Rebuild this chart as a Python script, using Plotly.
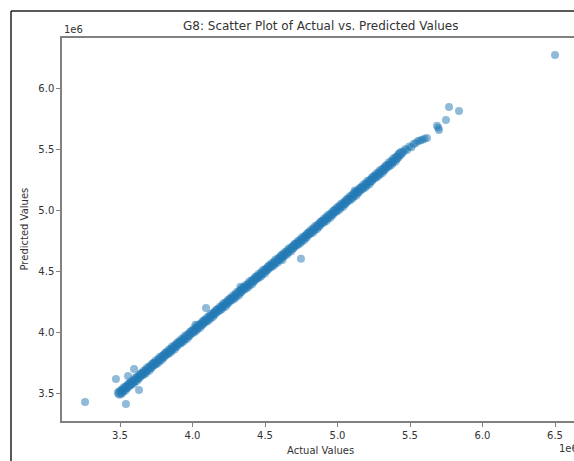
import plotly.graph_objects as go

# Values in units of 1e6
band_actual = [
    3.492, 3.498, 3.505, 3.511, 3.519, 3.527, 3.534, 3.541, 3.550, 3.558,
    3.566, 3.573, 3.581, 3.590, 3.598, 3.607, 3.615, 3.622, 3.631, 3.640,
    3.648, 3.656, 3.665, 3.673, 3.682, 3.690, 3.699, 3.708, 3.716, 3.725,
    3.733, 3.742, 3.751, 3.759, 3.768, 3.777, 3.785, 3.794, 3.803, 3.812,
    3.820, 3.829, 3.838, 3.846, 3.855, 3.864, 3.873, 3.881, 3.890, 3.899,
    3.908, 3.917, 3.925, 3.934, 3.943, 3.952, 3.961, 3.969, 3.978, 3.987,
    3.996, 4.005, 4.014, 4.022, 4.031, 4.040, 4.049, 4.058, 4.067, 4.075,
    4.084, 4.093, 4.102, 4.111, 4.120, 4.129, 4.137, 4.146, 4.155, 4.164,
    4.173, 4.182, 4.191, 4.200, 4.209, 4.217, 4.226, 4.235, 4.244, 4.253,
    4.262, 4.271, 4.280, 4.289, 4.298, 4.307, 4.316, 4.325, 4.334, 4.343,
    4.352, 4.361, 4.370, 4.379, 4.388, 4.397, 4.406, 4.415, 4.424, 4.433,
    4.442, 4.451, 4.460, 4.469, 4.478, 4.487, 4.496, 4.505, 4.514, 4.523,
    4.532, 4.541, 4.550, 4.559, 4.568, 4.577, 4.586, 4.595, 4.604, 4.613,
    4.622, 4.631, 4.640, 4.649, 4.658, 4.667, 4.676, 4.685, 4.694, 4.703,
    4.712, 4.721, 4.730, 4.739, 4.748, 4.757, 4.766, 4.775, 4.784, 4.793,
    4.802, 4.811, 4.820, 4.829, 4.838, 4.847, 4.856, 4.865, 4.874, 4.883,
    4.892, 4.901, 4.910, 4.919, 4.928, 4.937, 4.946, 4.955, 4.964, 4.973,
    4.982, 4.991, 5.000, 5.009, 5.018, 5.027, 5.036, 5.045, 5.054, 5.063,
    5.072, 5.081, 5.090, 5.099, 5.108, 5.117, 5.126, 5.135, 5.144, 5.153,
    5.162, 5.171, 5.180, 5.189, 5.198, 5.207, 5.216, 5.225, 5.234, 5.243,
    5.252, 5.261, 5.270, 5.279, 5.288, 5.297, 5.306, 5.315, 5.324, 5.333,
    5.342, 5.351, 5.360, 5.369, 5.378, 5.387, 5.396, 5.405, 5.414, 5.423, 5.432, 5.441,
]
band_predicted = [
    3.503, 3.494, 3.515, 3.503, 3.521, 3.539, 3.524, 3.545, 3.548, 3.566,
    3.572, 3.569, 3.591, 3.582, 3.600, 3.619, 3.605, 3.626, 3.629, 3.648,
    3.654, 3.652, 3.675, 3.665, 3.684, 3.702, 3.689, 3.712, 3.714, 3.733,
    3.739, 3.738, 3.761, 3.751, 3.770, 3.789, 3.775, 3.798, 3.801, 3.820,
    3.826, 3.825, 3.848, 3.838, 3.857, 3.876, 3.863, 3.885, 3.888, 3.907,
    3.914, 3.913, 3.935, 3.926, 3.945, 3.964, 3.951, 3.973, 3.976, 3.995,
    4.002, 4.001, 4.024, 4.014, 4.033, 4.052, 4.039, 4.062, 4.065, 4.083,
    4.090, 4.089, 4.112, 4.103, 4.122, 4.141, 4.127, 4.150, 4.153, 4.172,
    4.179, 4.178, 4.201, 4.192, 4.211, 4.229, 4.216, 4.239, 4.242, 4.261,
    4.268, 4.267, 4.290, 4.281, 4.300, 4.319, 4.306, 4.329, 4.332, 4.351,
    4.358, 4.357, 4.380, 4.371, 4.390, 4.409, 4.396, 4.419, 4.422, 4.441,
    4.448, 4.447, 4.470, 4.461, 4.480, 4.499, 4.486, 4.509, 4.512, 4.531,
    4.538, 4.537, 4.560, 4.551, 4.570, 4.589, 4.576, 4.599, 4.602, 4.621,
    4.628, 4.627, 4.650, 4.641, 4.660, 4.679, 4.666, 4.689, 4.692, 4.711,
    4.718, 4.717, 4.740, 4.731, 4.750, 4.769, 4.756, 4.779, 4.782, 4.801,
    4.810, 4.809, 4.832, 4.823, 4.842, 4.861, 4.848, 4.871, 4.874, 4.893,
    4.902, 4.901, 4.924, 4.915, 4.934, 4.953, 4.940, 4.963, 4.966, 4.985,
    4.994, 4.993, 5.016, 5.007, 5.026, 5.045, 5.032, 5.055, 5.058, 5.077,
    5.086, 5.085, 5.108, 5.099, 5.118, 5.137, 5.124, 5.147, 5.150, 5.169,
    5.178, 5.177, 5.200, 5.191, 5.210, 5.229, 5.216, 5.239, 5.242, 5.261,
    5.270, 5.269, 5.292, 5.283, 5.302, 5.321, 5.308, 5.331, 5.334, 5.353,
    5.362, 5.361, 5.386, 5.375, 5.396, 5.415, 5.402, 5.427, 5.430, 5.451, 5.458, 5.470,
]
sparse_actual = [5.455, 5.468, 5.480, 5.495, 5.510, 5.525, 5.540, 5.555, 5.570, 5.585, 5.600, 5.617,
                 5.686, 5.695, 5.700, 5.748, 5.769, 5.838, 6.500]
sparse_predicted = [5.478, 5.500, 5.492, 5.520, 5.515, 5.540, 5.550, 5.565, 5.570, 5.575, 5.585, 5.590,
                    5.690, 5.675, 5.656, 5.738, 5.844, 5.811, 6.270]
outlier_actual = [3.259, 3.541, 3.472, 3.555, 3.597, 3.631, 4.093, 4.748, 4.330, 4.620, 5.120, 4.020]
outlier_predicted = [3.426, 3.410, 3.615, 3.640, 3.697, 3.525, 4.197, 4.600, 4.370, 4.590, 5.160, 4.060]

x_ticks = [3.5, 4.0, 4.5, 5.0, 5.5, 6.0, 6.5]
y_ticks = [3.5, 4.0, 4.5, 5.0, 5.5, 6.0]

FONT = "DejaVu Sans"
TXT = "#333333"
SPINE = "#808080"
DOT = "rgba(31,119,180,0.5)"

W, H = 574, 461
L, T, B = 62, 38, 40
pw, ph = W - L, H - T - B


def px_x(p):
    return (p - L) / pw


def px_y(p):
    return (H - B - p) / ph


fig = go.Figure()
fig.add_trace(go.Scatter(
    x=band_actual, y=band_predicted, mode="markers",
    marker=dict(size=10, color=DOT, line=dict(width=0)), hoverinfo="skip",
))
fig.add_trace(go.Scatter(
    x=sparse_actual + outlier_actual, y=sparse_predicted + outlier_predicted, mode="markers",
    marker=dict(size=8, color=DOT, line=dict(width=0)), hoverinfo="skip",
))

fig.update_layout(
    width=W, height=H, autosize=False,
    margin=dict(l=L, r=0, t=T, b=B, pad=0),
    paper_bgcolor="white", plot_bgcolor="white",
    showlegend=False,
    font=dict(family=FONT, size=10, color=TXT),
    xaxis=dict(range=[3.100, 6.631], tickvals=x_ticks, ticktext=[f"{v:.1f}" for v in x_ticks],
               showgrid=False, zeroline=False, showline=True, mirror=True,
               linecolor=SPINE, linewidth=1.5, ticks="outside", ticklen=4,
               tickcolor=SPINE, tickwidth=1, tickfont=dict(size=10, color=TXT)),
    yaxis=dict(range=[3.2705, 6.4098], tickvals=y_ticks, ticktext=[f"{v:.1f}" for v in y_ticks],
               showgrid=False, zeroline=False, showline=True, mirror=False,
               linecolor=SPINE, linewidth=1.5, ticks="outside", ticklen=4,
               tickcolor=SPINE, tickwidth=1, tickfont=dict(size=10, color=TXT)),
    annotations=[
        dict(text="G8: Scatter Plot of Actual vs. Predicted Values", xref="paper", yref="paper",
             x=px_x(320.5), y=px_y(26), xanchor="center", yanchor="middle", showarrow=False,
             font=dict(size=12, color=TXT)),
        dict(text="1e6", xref="paper", yref="paper", x=0, y=px_y(30), xanchor="left",
             yanchor="middle", showarrow=False, font=dict(size=10, color=TXT)),
        dict(text="1e6", xref="paper", yref="paper", x=px_x(580), y=px_y(449), xanchor="right",
             yanchor="middle", showarrow=False, font=dict(size=10, color=TXT)),
        dict(text="Actual Values", xref="paper", yref="paper", x=px_x(320.5), y=px_y(450),
             xanchor="center", yanchor="middle", showarrow=False, font=dict(size=10, color=TXT)),
        dict(text="Predicted Values", xref="paper", yref="paper", x=px_x(24), y=px_y(229.5),
             xanchor="center", yanchor="middle", textangle=-90, showarrow=False,
             font=dict(size=10, color=TXT)),
    ],
    shapes=[
        dict(type="line", xref="paper", yref="paper", x0=px_x(11), x1=px_x(600),
             y0=px_y(11), y1=px_y(11), line=dict(color="#222222", width=1.5)),
        dict(type="line", xref="paper", yref="paper", x0=px_x(11), x1=px_x(11),
             y0=px_y(11), y1=px_y(480), line=dict(color="#222222", width=1.5)),
    ],
)

fig.write_html("out.html")
